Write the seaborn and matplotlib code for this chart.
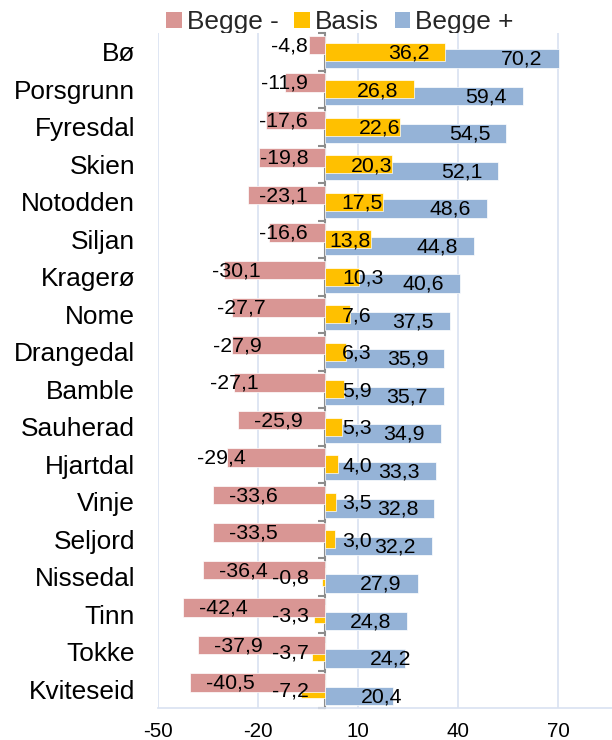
import numpy as np
import pandas as pd
import matplotlib
matplotlib.use("Agg")
import matplotlib.pyplot as plt
from matplotlib.patches import Patch
import seaborn as sns

# Municipalities, top to bottom
MUNICIPALITIES = ["Bø", "Porsgrunn", "Fyresdal", "Skien", "Notodden", "Siljan",
                  "Kragerø", "Nome", "Drangedal", "Bamble", "Sauherad", "Hjartdal",
                  "Vinje", "Seljord", "Nissedal", "Tinn", "Tokke", "Kviteseid"]

BEGGE_MINUS = [-4.8, -11.9, -17.6, -19.8, -23.1, -16.6, -30.1, -27.7, -27.9,
               -27.1, -25.9, -29.4, -33.6, -33.5, -36.4, -42.4, -37.9, -40.5]
BASIS = [36.2, 26.8, 22.6, 20.3, 17.5, 13.8, 10.3, 7.6, 6.3,
         5.9, 5.3, 4.0, 3.5, 3.0, -0.8, -3.3, -3.7, -7.2]
BEGGE_PLUS = [70.2, 59.4, 54.5, 52.1, 48.6, 44.8, 40.6, 37.5, 35.9,
              35.7, 34.9, 33.3, 32.8, 32.2, 27.9, 24.8, 24.2, 20.4]

SERIES = ["Begge -", "Basis", "Begge +"]
X_TICKS = [-50, -20, 10, 40, 70]

# Hand-moved data labels (x shift in data units)
LABEL_NUDGE = {
    ("Begge -", "Kragerø"): -8.6,
    ("Begge -", "Nome"): -9.5,
    ("Begge -", "Drangedal"): -10.5,
    ("Begge -", "Bamble"): -12.2,
    ("Begge -", "Hjartdal"): -13.8,
    ("Basis", "Bø"): -4.8,
    ("Basis", "Porsgrunn"): -4.8,
    ("Begge +", "Tokke"): 6.6,
    ("Begge +", "Kviteseid"): 7.8,
}

COLORS = {"Begge -": "#D99694", "Basis": "#FFC000", "Begge +": "#95B3D7"}
OFFSETS = {"Begge -": -0.18, "Basis": 0.0, "Begge +": 0.18}
BAR_W = 0.49
GRID_C = "#D9E2F1"
AXIS_C = "#8C8C8C"

sns.set_theme(style="white")
plt.rcParams["font.family"] = ["Liberation Sans", "DejaVu Sans"]

df = pd.DataFrame({"kommune": MUNICIPALITIES,
                   "Begge -": BEGGE_MINUS, "Basis": BASIS, "Begge +": BEGGE_PLUS})
df["pos"] = np.arange(len(df))

fig = plt.figure(figsize=(6.12, 7.40), dpi=100)
ax = fig.add_axes([158 / 612, 32 / 740, 1 - 158 / 612, (708 - 33) / 740])

xmin, xmax = -50, -50 + (612 - 158) / (100 / 30)

# draw order: blue below, then yellow, red on top
for name in ["Begge +", "Basis", "Begge -"]:
    sns.barplot(x=df[name], y=df["pos"] + OFFSETS[name], orient="h",
                native_scale=True, width=BAR_W, color=COLORS[name],
                saturation=1, errorbar=None, edgecolor="white",
                linewidth=0.5, ax=ax)

ax.set_xlim(xmin, xmax)
ax.set_ylim(len(df) - 0.5, -0.5)
ax.set_xlabel("")
ax.set_ylabel("")

# axes, grid and ticks
ax.set_xticks(X_TICKS)
ax.set_xticklabels([str(t) for t in X_TICKS])
ax.xaxis.grid(True, color=GRID_C, linewidth=1.2)
ax.set_axisbelow(True)
ax.tick_params(axis="x", length=3.6, width=1.2, color=GRID_C, pad=6.5,
               labelsize=14.8, labelcolor="black")
ax.set_yticks(df["pos"])
ax.set_yticklabels(MUNICIPALITIES)
ax.tick_params(axis="y", length=0, pad=16.5, labelsize=18.9, labelcolor="black")
for side in ["top", "right", "left"]:
    ax.spines[side].set_visible(False)
ax.spines["bottom"].set_color(GRID_C)
ax.spines["bottom"].set_linewidth(1.2)

# category axis crossing at zero, with boundary tick marks
zero_frac = (0 - xmin) / (xmax - xmin)
sec = ax.secondary_yaxis(zero_frac)
sec.set_yticks(np.arange(-0.5, len(df), 1.0))
sec.set_yticklabels([])
sec.tick_params(axis="y", length=5, width=1.5, color=AXIS_C, direction="out")
sec.spines["left"].set_color(AXIS_C)
sec.spines["left"].set_linewidth(1.5)


def fmt(v):
    return f"{v:.1f}".replace(".", ",")


LBL = dict(fontsize=15.3, color="black", va="center", zorder=6)

for i, k in enumerate(MUNICIPALITIES):
    # Begge - : inside end, kept clear of the zero axis
    v = BEGGE_MINUS[i]
    y = i + OFFSETS["Begge -"] + 0.02
    dx = LABEL_NUDGE.get(("Begge -", k), 0.0)
    if v > -24:
        ax.text(-5.0 + dx, y, fmt(v), ha="right", **LBL)
    else:
        ax.text(v + 4.8 + dx, y, fmt(v), ha="left", **LBL)

    # Basis
    v = BASIS[i]
    y = i + OFFSETS["Basis"] + 0.04
    dx = LABEL_NUDGE.get(("Basis", k), 0.0)
    if v < 0:
        ax.text(-4.8 + dx, y, fmt(v), ha="right", **LBL)
    elif v >= 13:
        ax.text(v + dx, y, fmt(v), ha="right", **LBL)
    else:
        ax.text(5.2 + dx, y, fmt(v), ha="left", **LBL)

    # Begge + : inside end
    v = BEGGE_PLUS[i]
    y = i + OFFSETS["Begge +"] + 0.02
    dx = LABEL_NUDGE.get(("Begge +", k), 0.0)
    ax.text(v - 4.8 + dx, y, fmt(v), ha="right", **LBL)

# legend sits behind the plot area, which trims its descenders
handles = [Patch(facecolor=COLORS[s], edgecolor="none") for s in SERIES]
leg = fig.legend(handles, SERIES, loc="center", ncol=3,
                 bbox_to_anchor=(340 / 612, 1 - 22 / 740),
                 frameon=False, fontsize=18.9, handlelength=0.58,
                 handleheight=0.58, handletextpad=0.2, columnspacing=0.6,
                 borderpad=0, borderaxespad=0)
leg.set_zorder(-1)

fig.savefig("out.png", dpi=100)
